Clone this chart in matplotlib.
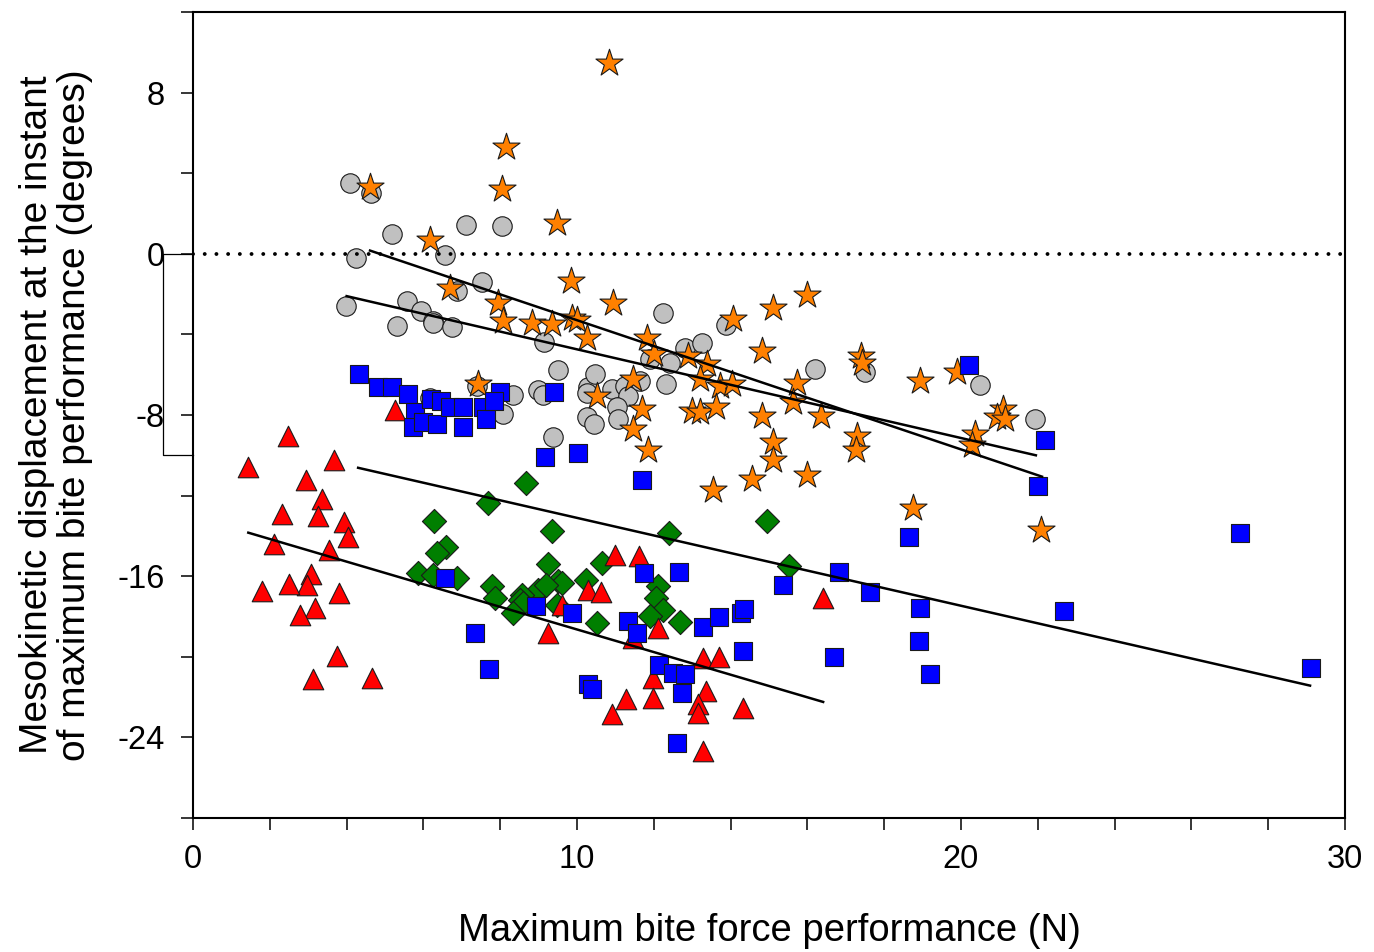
"""
Mesokinetic displacement vs maximum bite force, five groups with fitted lines.
"""

import numpy as np
import matplotlib.pyplot as plt
from matplotlib.ticker import MultipleLocator

plt.rcParams["font.family"] = ["Liberation Sans", "DejaVu Sans"]
plt.rcParams["axes.unicode_minus"] = False

# ---------------------------------------------------------------------------
# Data
# ---------------------------------------------------------------------------

grey_x = [4.09, 4.63, 5.18, 7.11, 8.04, 4.24, 6.55, 3.98, 5.56, 5.95, 6.26, 6.26,
          5.30, 6.74, 7.52, 6.87, 9.14, 9.51, 8.99, 9.12, 10.29, 10.25, 10.47,
          9.38, 10.25, 10.43, 8.34, 8.08, 6.17, 7.39, 12.23, 10.90, 11.25, 11.34,
          11.64, 11.03, 11.08, 12.33, 11.90, 12.42, 12.81, 13.25, 13.89, 16.20,
          17.50, 20.50, 21.93]
grey_y = [3.52, 3.00, 0.99, 1.43, 1.38, -0.21, -0.05, -2.57, -2.32, -2.85, -3.34,
          -3.45, -3.59, -3.62, -1.42, -1.83, -4.38, -5.78, -6.77, -7.00, -6.60,
          -6.90, -5.98, -9.10, -8.11, -8.44, -7.01, -7.95, -7.18, -6.55, -2.93,
          -6.72, -6.55, -7.05, -6.30, -7.62, -8.20, -6.47, -5.23, -5.40, -4.66,
          -4.41, -3.51, -5.73, -5.86, -6.49, -8.20]

star_x = [10.83, 4.61, 8.05, 8.15, 9.47, 6.17, 9.84, 6.68, 7.95, 8.06, 8.82, 9.34,
          9.86, 9.99, 10.25, 7.43, 10.95, 11.81, 12.00, 12.90, 13.38, 13.20,
          13.72, 14.03, 11.47, 10.51, 11.68, 11.47, 11.86, 12.99, 13.20, 13.63,
          14.07, 15.11, 14.81, 14.81, 15.11, 15.72, 15.63, 15.11, 14.55, 13.53,
          15.98, 16.35, 17.39, 17.41, 17.28, 17.27, 18.92, 19.89, 20.36, 20.28,
          21.10, 20.93, 21.15, 18.74, 22.08, 16.00]
star_y = [9.48, 3.32, 3.24, 5.28, 1.52, 0.69, -1.37, -1.69, -2.44, -3.34, -3.42,
          -3.46, -3.18, -3.30, -4.17, -6.47, -2.44, -4.17, -4.99, -5.07, -5.48,
          -6.22, -6.55, -6.47, -6.22, -7.05, -7.70, -8.69, -9.76, -7.79, -7.87,
          -7.62, -3.23, -2.68, -4.82, -8.03, -9.35, -6.39, -7.37, -10.25, -11.16,
          -11.74, -11.00, -8.03, -5.07, -5.40, -9.02, -9.76, -6.30, -5.89, -8.94,
          -9.51, -7.70, -8.11, -8.20, -12.64, -13.71, -2.02]

green_x = [8.66, 7.69, 6.28, 9.34, 6.59, 6.35, 5.87, 6.26, 6.87, 9.24, 10.23, 10.64,
           9.51, 9.60, 7.78, 7.86, 8.99, 8.56, 8.52, 8.60, 8.34, 10.51, 9.19,
           12.40, 12.12, 12.07, 12.25, 11.90, 12.68, 9.47, 14.95, 15.53]
green_y = [-11.37, -12.35, -13.25, -13.76, -14.53, -14.86, -15.85, -15.93, -16.10,
           -15.41, -16.18, -15.36, -16.26, -16.35, -16.51, -17.09, -16.67, -16.92,
           -17.17, -17.33, -17.83, -18.32, -16.42, -13.88, -16.51, -17.09, -17.66,
           -17.99, -18.27, -17.41, -13.27, -15.47]

red_x = [2.48, 1.44, 3.68, 2.94, 3.35, 2.33, 3.25, 3.94, 4.04, 2.11, 3.55, 3.07,
         2.98, 2.51, 1.80, 3.81, 3.18, 2.79, 3.74, 3.12, 4.67, 5.25, 9.25, 10.29,
         10.62, 10.99, 11.62, 9.60, 12.12, 11.47, 16.40, 11.99, 13.29, 13.71,
         13.35, 11.28, 11.99, 10.91, 13.14, 13.14, 14.33, 13.29]
red_y = [-9.05, -10.58, -10.21, -11.24, -12.15, -12.89, -13.00, -13.33, -14.07,
         -14.42, -14.72, -15.90, -16.43, -16.38, -16.72, -16.84, -17.58, -17.91,
         -19.97, -21.12, -21.04, -7.77, -18.81, -16.67, -16.76, -14.95, -15.00,
         -17.41, -18.57, -19.06, -17.09, -21.04, -20.05, -20.02, -21.70, -22.10,
         -22.06, -22.84, -22.35, -22.77, -22.55, -24.66]

blue_x = [4.31, 4.83, 5.17, 5.61, 5.78, 5.74, 6.00, 6.35, 6.21, 6.47, 6.69, 7.04,
          7.02, 7.54, 7.64, 7.99, 7.85, 9.40, 9.17, 10.03, 11.70, 6.55, 7.34, 7.72,
          8.92, 9.86, 10.29, 10.38, 11.34, 11.55, 18.65, 11.74, 12.66, 13.27,
          13.71, 14.26, 14.35, 14.33, 15.37, 16.82, 17.63, 16.70, 18.92, 18.90,
          12.14, 12.49, 12.81, 12.73, 12.61, 20.22, 22.20, 22.00, 27.27, 19.19,
          22.69, 29.11]
blue_y = [-5.98, -6.63, -6.63, -6.96, -7.87, -8.61, -8.36, -8.44, -7.21, -7.29,
          -7.62, -7.62, -8.61, -7.62, -8.20, -6.88, -7.30, -6.88, -10.10, -9.90,
          -11.22, -16.07, -18.81, -20.63, -17.50, -17.83, -21.37, -21.60, -18.24,
          -18.81, -14.04, -15.85, -15.77, -18.53, -18.04, -17.83, -17.61, -19.69,
          -16.42, -15.77, -16.76, -20.02, -17.58, -19.23, -20.41, -20.79, -20.87,
          -21.78, -24.30, -5.53, -9.22, -11.52, -13.84, -20.87, -17.71, -20.58]

# Fitted lines: (x start, x end), (y start, y end)
fit_star_x, fit_star_y = [4.61, 22.11], [0.16, -11.06]
fit_grey_x, fit_grey_y = [4.00, 21.95], [-2.10, -10.00]
fit_blue_x, fit_blue_y = [4.30, 29.09], [-10.62, -21.43]
fit_red_x, fit_red_y = [1.44, 16.41], [-13.84, -22.24]

# Bracket drawn left of the y axis
bracket_x = [0, -0.78, -0.78, 0]
bracket_y = [0, 0, -10, -10]

# ---------------------------------------------------------------------------
# Figure
# ---------------------------------------------------------------------------

fig = plt.figure(figsize=(13.74, 9.52), dpi=100)
ax = fig.add_axes([193 / 1374, 1 - 818 / 952, 1152 / 1374, 806 / 952])

EDGE = "#1a1a1a"
common = dict(edgecolors=EDGE, linewidths=0.8)
ax.scatter(grey_x, grey_y, marker="o", s=14**2, color="#C0C0C0", zorder=2, **common)
ax.scatter(star_x, star_y, marker="*", s=20.5**2, color="#FF8000", zorder=3, **common)
ax.scatter(green_x, green_y, marker="D", s=12.3**2, color="#007F00", zorder=4, **common)
ax.scatter(red_x, red_y, marker="^", s=14.8**2, color="#FF0000", zorder=5, **common)
ax.scatter(blue_x, blue_y, marker="s", s=12.8**2, color="#0000FF", zorder=6, **common)

for fx, fy in [(fit_star_x, fit_star_y), (fit_grey_x, fit_grey_y),
               (fit_blue_x, fit_blue_y), (fit_red_x, fit_red_y)]:
    ax.plot(fx, fy, color="black", lw=1.8, zorder=7)

ax.axhline(0, color="black", lw=2.8, linestyle=(0, (0.01, 3.0)),
           dash_capstyle="round", zorder=8)

ax.plot(bracket_x, bracket_y, color="black", lw=0.9, clip_on=False, zorder=8)

ax.set_xlim(0, 30)
ax.set_ylim(-28, 12)
ax.xaxis.set_major_locator(MultipleLocator(10))
ax.xaxis.set_minor_locator(MultipleLocator(2))
ax.yaxis.set_major_locator(MultipleLocator(8))
ax.yaxis.set_minor_locator(MultipleLocator(4))

for side in ["left", "bottom", "top", "right"]:
    ax.spines[side].set_linewidth(1.5)
ax.tick_params(which="both", direction="out", length=8.6, width=1.1,
               top=False, right=False)
ax.tick_params(axis="x", which="major", labelsize=23.5, pad=10)
ax.tick_params(axis="y", which="major", labelsize=23.5, pad=12)

ax.set_xlabel("Maximum bite force performance (N)", fontsize=27.5)
ax.xaxis.set_label_coords(0.5, -0.118)
ax.set_ylabel("Mesokinetic displacement at the instant\nof maximum bite performance (degrees)",
              fontsize=28, linespacing=1.05)
ax.yaxis.set_label_coords(-0.087, 0.5)

plt.savefig("out.png", dpi=100, facecolor="white")
print("Saved out.png")
